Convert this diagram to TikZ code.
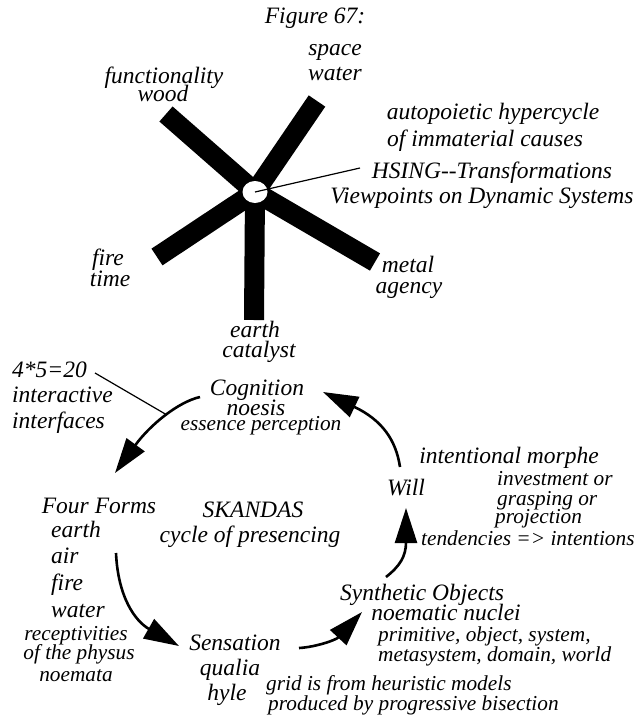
\documentclass[tikz,border=0pt]{standalone}
\usepackage{fontspec}
\setmainfont{Liberation Serif}
\usetikzlibrary{arrows.meta}
\begin{document}
\begin{tikzpicture}[x=1pt,y=-1pt,
  big/.style={font=\fontsize{23.5}{25}\selectfont\itshape, inner sep=0pt, anchor=base},
  small/.style={font=\fontsize{21.3}{23}\selectfont\itshape, inner sep=0pt, anchor=base},
  bigl/.style={big, anchor=base west},
  smalll/.style={small, anchor=base west},
  arm/.style={line width=20pt, line cap=butt},
  flow/.style={line width=2.6pt, -{Triangle[length=35pt,width=22pt]}},
  leader/.style={line width=1.2pt}]
\useasboundingbox (0,0) rectangle (637,717);

% title
\node[big] (title) at (315,24) {Figure 67:};

% ---- the five-armed star of elements ----
\coordinate (hub) at (255,192);
\coordinate (armUL) at (166,114);
\coordinate (armUR) at (317,101);
\coordinate (armLL) at (157,257);
\coordinate (armD)  at (254,320);
\coordinate (armLR) at (375,262);
\foreach \e in {armUL,armUR,armLL,armD,armLR}
  \draw[arm] (hub) -- (\e);
\fill[white] (hub) ellipse [x radius=12.5, y radius=11];

% arm labels
\node[big] (space) at (335,56) {space};
\node[big] (water) at (335,80) {water};
\node[big] (func)  at (164,83) {functionality};
\node[big] (wood)  at (163,101) {wood};
\node[big] (fire)  at (108,265) {fire};
\node[big] (time)  at (110,286) {time};
\node[big] (metal) at (408,272) {metal};
\node[big] (agency) at (409,293) {agency};
\node[big] (earthS) at (255,337) {earth};
\node[big] (catalyst) at (259,357) {catalyst};

% hub annotations
\node[big] (auto) at (493,119) {autopoietic hypercycle};
\node[big] (immat) at (485,146) {of immaterial causes};
\node[big] (hsing) at (492,178) {HSING{-}{-}Transformations};
\node[big] (views) at (482,203) {Viewpoints on Dynamic Systems};
\coordinate (hsingTip) at (360,168);
\draw[leader] (hub) -- (hsingTip);

% ---- SKANDAS cycle ----
\node[bigl] (four) at (12,377) {4*5=20};
\node[bigl] (inter1) at (12,402) {interactive};
\node[bigl] (inter2) at (12,428) {interfaces};

\node[big] (cog) at (257,395) {Cognition};
\node[big] (noesis) at (256,415) {noesis};
\node[small] (essence) at (261,430) {essence perception};

\node[big] (forms) at (99,513) {Four Forms};
\node[bigl] (fEarth) at (51,537) {earth};
\node[bigl] (fAir) at (51,563) {air};
\node[bigl] (fFire) at (51,590) {fire};
\node[bigl] (fWater) at (51,617) {water};
\node[small] (recep) at (76,640) {receptivities};
\node[small] (physus) at (79,659) {of the physus};
\node[small] (noemata) at (76,681) {noemata};

\node[big] (skandas) at (253,517) {SKANDAS};
\node[big] (cycle) at (250,542) {cycle of presencing};

\node[big] (morphe) at (509,463) {intentional morphe};
\node[big] (will) at (406,495) {Will};
\node[smalll] (invest) at (497,485) {investment or};
\node[smalll] (grasp) at (497,505) {grasping or};
\node[smalll] (proj) at (495,523) {projection};
\node[smalll] (tend) at (421,545) {tendencies => intentions};

\node[big] (synth) at (422,600) {Synthetic Objects};
\node[big] (nuclei) at (446,620) {noematic nuclei};
\node[smalll] (prim) at (378,641) {primitive, object, system,};
\node[smalll] (meta) at (378,661) {metasystem, domain, world};

\node[big] (sens) at (235,650) {Sensation};
\node[big] (qualia) at (230,675) {qualia};
\node[big] (hyle) at (227,700) {hyle};
\node[smalll] (grid) at (266,690) {grid is from heuristic models};
\node[smalll] (bisect) at (268,710) {produced by progressive bisection};

% arrow end points
\coordinate (cogOut) at (200,397);
\coordinate (formsIn) at (115,473);
\coordinate (formsOut) at (116,553);
\coordinate (sensIn) at (179,646);
\coordinate (sensOut) at (299,648);
\coordinate (synthIn) at (362,612);
\coordinate (synthOut) at (386,577);
\coordinate (willIn) at (406,508);
\coordinate (willOut) at (400,467);
\coordinate (cogIn) at (323,392);
\coordinate (interTip) at (167,415);

\draw[flow] (cogOut) .. controls (178,402) and (150,425) .. (formsIn);
\draw[flow] (formsOut) .. controls (118,597) and (135,621) .. (sensIn);
\draw[flow] (sensOut) .. controls (316,647) and (336,640) .. (synthIn);
\draw[flow] (synthOut) .. controls (400,566) and (406,556) .. (willIn);
\draw[flow] (willOut) .. controls (396,440) and (382,420) .. (cogIn);

\draw[leader] (95,373) -- (interTip);
\end{tikzpicture}
\end{document}
